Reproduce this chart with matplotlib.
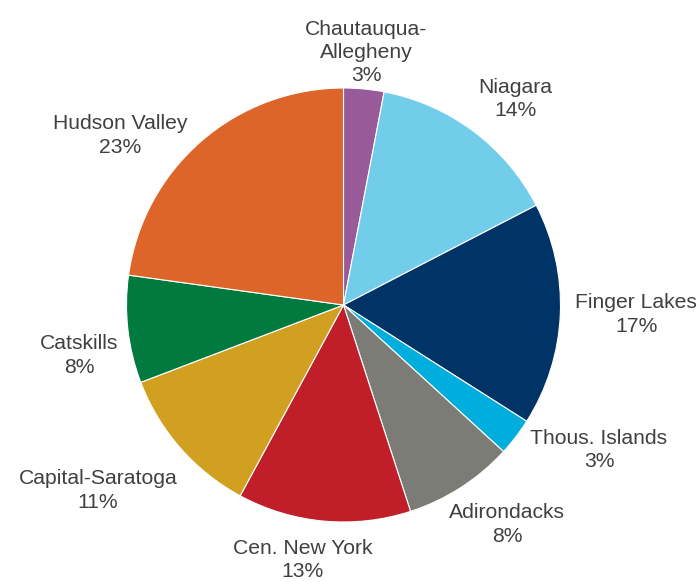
import matplotlib
matplotlib.use("Agg")
import matplotlib.pyplot as plt
import numpy as np

regions = ["Chautauqua-\nAllegheny", "Niagara", "Finger Lakes", "Thous. Islands",
           "Adirondacks", "Cen. New York", "Capital-Saratoga", "Catskills", "Hudson Valley"]
shares = [3.0, 14.4, 16.6, 2.8, 8.2, 12.9, 11.3, 8.0, 22.8]
pct_labels = ["3%", "14%", "17%", "3%", "8%", "13%", "11%", "8%", "23%"]

colors = ["#985A98", "#72CDEB", "#003466", "#00AEDD", "#7C7C76",
          "#C01F2A", "#D1A021", "#007A3E", "#DD652A"]
# label placement (radial distance in radii, angular nudge in degrees, clockwise)
label_dist = [1.170, 1.237, 1.349, 1.355, 1.261, 1.190, 1.418, 1.239, 1.293]
label_nudge = [-0.3, 3.0, -0.66, -7.8, -3.9, 3.9, 4.15, -4.35, -11.8]

W, H, dpi = 700, 582, 100
fig = plt.figure(figsize=(W / dpi, H / dpi), dpi=dpi)
ax = fig.add_axes([0, 0, 1, 1])

cx, cy, R = 343.5, 305, 217.0  # pixel center (from top) and radius
wedges, _ = ax.pie(shares, colors=colors, startangle=90, counterclock=False,
                   wedgeprops=dict(edgecolor="white", linewidth=0.8))
ax.set_xlim(-cx / R, (W - cx) / R)
ax.set_ylim(-(H - cy) / R, cy / R)

for w, name, pct, d, nud in zip(wedges, regions, pct_labels, label_dist, label_nudge):
    mid = np.deg2rad((w.theta1 + w.theta2) / 2 - nud)
    x, y = d * np.cos(mid), d * np.sin(mid)
    ax.text(x, y, f"{name}\n{pct}", ha="center", va="center",
            fontsize=15.2, family="Liberation Sans", color="#404040",
            linespacing=1.27)

fig.savefig("out.png", dpi=dpi)
